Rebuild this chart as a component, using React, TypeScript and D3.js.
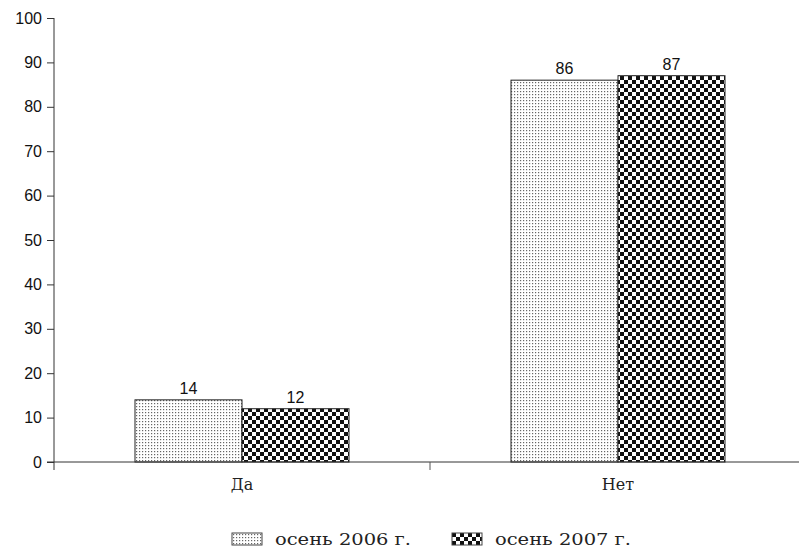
import * as d3 from "d3";
import {useRef, useEffect} from "react";

const categories = ["Да", "Нет"];
const seriesNames = ["осень 2006 г.", "осень 2007 г."];
const values2006 = [14, 86];
const values2007 = [12, 87];
const yTicks = [0, 10, 20, 30, 40, 50, 60, 70, 80, 90, 100];

const width = 799;
const height = 549;
const marginLeft = 54;
const marginTop = 18;
const plotRight = 806;
const plotBottom = 462;

const App = () => {
  const gx = useRef<SVGGElement | null>(null);
  const gy = useRef<SVGGElement | null>(null);

  const x = d3
    .scaleBand<string>()
    .domain(categories)
    .range([marginLeft, plotRight])
    .paddingInner(0)
    .paddingOuter(0);

  const groupWidth = 214;
  const sub = d3
    .scaleBand<string>()
    .domain(seriesNames)
    .range([0, groupWidth]);

  const y = d3.scaleLinear().domain([0, 100]).range([plotBottom, marginTop]);

  useEffect(() => {
    if (gy.current) {
      const g = d3.select(gy.current);
      g.selectAll("*").remove();
      g.call(
        d3
          .axisLeft(y)
          .tickValues(yTicks)
          .tickSize(7)
          .tickSizeOuter(0)
          .tickPadding(5)
      );
      g.select(".domain").attr("stroke", "#333").attr("d", `M0,${marginTop}V${plotBottom + 8}`);
      g.selectAll(".tick line").attr("stroke", "#333");
      g.selectAll(".tick text")
        .attr("font-family", "Liberation Sans, Arial, sans-serif")
        .attr("font-size", 16)
        .attr("fill", "#111");
    }
    if (gx.current) {
      const g = d3.select(gx.current);
      g.selectAll("*").remove();
      g.append("line")
        .attr("x1", marginLeft - 7)
        .attr("x2", plotRight)
        .attr("y1", 0)
        .attr("y2", 0)
        .attr("stroke", "#333");
      // boundary tick between categories
      g.append("line")
        .attr("x1", x(categories[1])!)
        .attr("x2", x(categories[1])!)
        .attr("y1", 0)
        .attr("y2", 8)
        .attr("stroke", "#555");
      g.selectAll("text.cat")
        .data(categories)
        .join("text")
        .attr("class", "cat")
        .attr("x", (d) => x(d)! + x.bandwidth() / 2)
        .attr("y", 28)
        .attr("text-anchor", "middle")
        .attr("font-family", "DejaVu Serif, Liberation Serif, serif")
        .attr("font-size", 16)
        .attr("fill", "#222")
        .text((d) => d);
    }
  }, [x, y]);

  const series = [
    {name: seriesNames[0], values: values2006, fill: "url(#dots)"},
    {name: seriesNames[1], values: values2007, fill: "url(#checker)"},
  ];

  const legendX = [232, 452];

  return (
    <svg
      width={width}
      height={height}
      style={{position: "absolute", left: 0, top: 0, background: "#fff"}}
    >
      <defs>
        <pattern id="dots" width="3" height="3" patternUnits="userSpaceOnUse">
          <rect width="3" height="3" fill="#fff" />
          <rect x="1" y="1" width="1.2" height="1.2" fill="#666" />
        </pattern>
        <pattern id="checker" width="8" height="8" patternUnits="userSpaceOnUse">
          <rect width="8" height="8" fill="#fff" />
          <rect x="0" y="0" width="4" height="4" fill="#111" />
          <rect x="4" y="4" width="4" height="4" fill="#111" />
        </pattern>
      </defs>
      <rect width={width} height={height} fill="#fff" />
      {categories.map((c, ci) => {
        const gx0 = x(c)! + (x.bandwidth() - groupWidth) / 2;
        return (
          <g key={c}>
            {series.map((s) => {
              const v = s.values[ci];
              const bx = gx0 + sub(s.name)!;
              return (
                <g key={s.name}>
                  <rect
                    x={bx}
                    y={y(v)}
                    width={sub.bandwidth()}
                    height={plotBottom - y(v)}
                    fill={s.fill}
                    stroke="#222"
                    strokeWidth={1}
                  />
                  <text
                    x={bx + sub.bandwidth() / 2}
                    y={y(v) - 6}
                    textAnchor="middle"
                    fontFamily="Liberation Sans, Arial, sans-serif"
                    fontSize={16}
                    fill="#111"
                  >
                    {v}
                  </text>
                </g>
              );
            })}
          </g>
        );
      })}
      <g ref={gx} transform={`translate(0,${plotBottom})`} />
      <g ref={gy} transform={`translate(${marginLeft},0)`} />
      {series.map((s, i) => (
        <g key={s.name} transform={`translate(${legendX[i]},533)`}>
          <rect width={30} height={12} fill={s.fill} stroke="#444" strokeWidth={1} />
          <text
            x={43}
            y={12}
            fontFamily="DejaVu Serif, Liberation Serif, serif"
            fontSize={16}
            textLength={136}
            lengthAdjust="spacingAndGlyphs"
            fill="#222"
          >
            {s.name}
          </text>
        </g>
      ))}
    </svg>
  );
};

export default App;
